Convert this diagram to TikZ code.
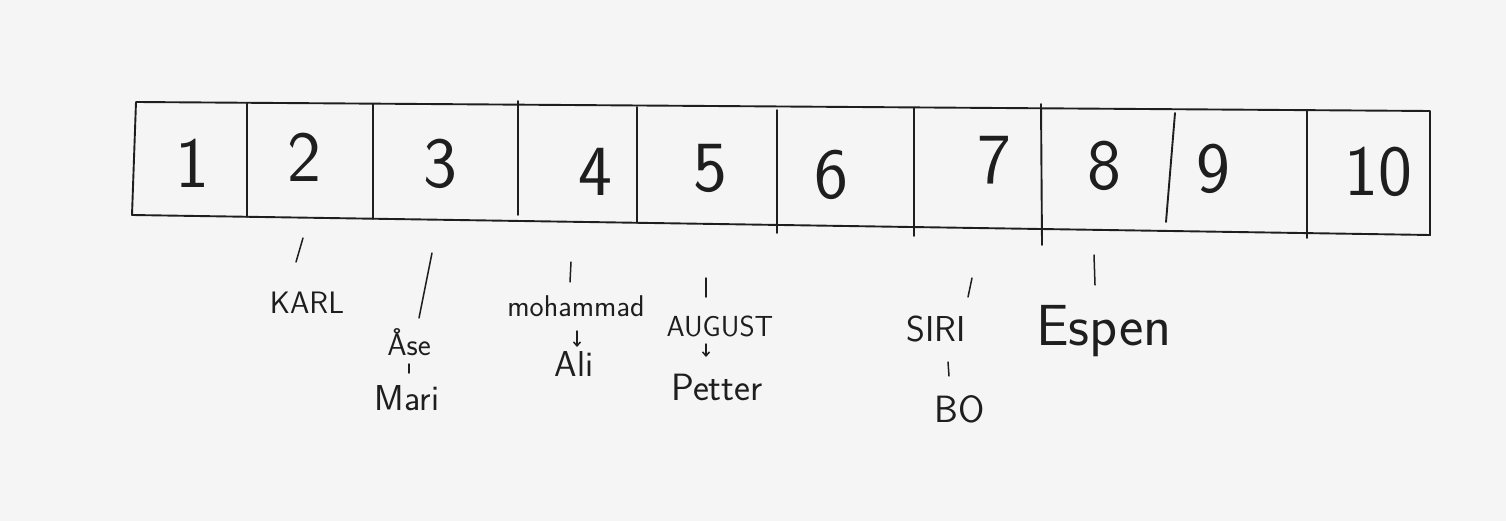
\documentclass[tikz,border=0pt]{standalone}
\usetikzlibrary{arrows.meta}
\definecolor{inkc}{HTML}{1E1E1E}
\definecolor{bgc}{HTML}{F5F5F5}
\begin{document}
\begin{tikzpicture}[x=1pt,y=-1pt,
  ink/.style={draw=inkc, line width=1.9pt, line cap=round, line join=round},
  thin/.style={draw=inkc, line width=1.5pt, line cap=round},
  digit/.style={anchor=base, inner sep=0pt, text=inkc, font=\sffamily\fontsize{72}{72}\selectfont},
  lbl/.style={anchor=base, inner sep=0pt, text=inkc, font=\sffamily\fontsize{#1}{#1}\selectfont},
  darrow/.style={thin, -{Straight Barb[length=4pt,width=7pt]}}]
\fill[bgc] (0,0) rectangle (1506,521);
\useasboundingbox (0,0) rectangle (1506,521);
% array outline
\coordinate (tl) at (136,102);
\coordinate (tr) at (1430,111);
\coordinate (br) at (1430,235);
\coordinate (bl) at (132,215);
\draw[ink] (tl) -- (tr) -- (br) -- (bl) -- cycle;
% dividers
\draw[ink] (247,103) -- (247,217);
\draw[ink] (373,104) -- (373,219);
\draw[ink] (518,101) -- (518,215);
\draw[ink] (637,107) -- (637,223);
\draw[ink] (777,110) -- (777,233);
\draw[ink] (914,108) -- (914,236);
\draw[ink] (1041,104) -- (1042,245);
\draw[ink] (1175,113) -- (1166,222);
\draw[ink] (1307,111) -- (1307,238);
% cell numbers
\node[digit] (c1) at (192,188) {1};
\node[digit] (c2) at (304,182) {2};
\node[digit] (c3) at (440,188) {3};
\node[digit] (c4) at (595,196) {4};
\node[digit] (c5) at (710,192) {5};
\node[digit] (c6) at (831,199) {6};
\node[digit] (c7) at (994,184) {7};
\node[digit] (c8) at (1104,190) {8};
\node[digit] (c9) at (1213,193) {9};
\node[digit] (c10) at (1378,196) {10};
% labels
\node[lbl=31] (karl) at (307,313) {KARL};
\node[lbl=31] (ase) at (409,355) {Åse};
\node[lbl=36] (mari) at (407,410) {Mari};
\node[lbl=30] (moh) at (576,316) {mohammad};
\node[lbl=36] (ali) at (574,376) {Ali};
\node[lbl=29] (aug) at (720,336) {AUGUST};
\node[lbl=38] (pet) at (717,400) {Petter};
\node[lbl=36] (siri) at (936,341) {SIRI};
\node[lbl=38] (bo) at (960,422) {BO};
\node[lbl=58] (esp) at (1104,345) {Espen};
% connector end points
\coordinate (k1) at (303,238); \coordinate (k2) at (296,262);
\coordinate (a1) at (432,253); \coordinate (a2) at (419,318);
\coordinate (am1) at (409,364); \coordinate (am2) at (409,373);
\coordinate (m1) at (571,262); \coordinate (m2) at (570,282);
\coordinate (ma1) at (577,331); \coordinate (ma2) at (577,347);
\coordinate (u1) at (706,278); \coordinate (u2) at (706,297);
\coordinate (up1) at (706,344); \coordinate (up2) at (706,357);
\coordinate (s1) at (972,278); \coordinate (s2) at (968,297);
\coordinate (sb1) at (948,362); \coordinate (sb2) at (949,376);
\coordinate (e1) at (1094,255); \coordinate (e2) at (1095,285);
% connectors
\draw[thin] (k1) -- (k2);
\draw[thin] (a1) -- (a2);
\draw[thin] (am1) -- (am2);
\draw[thin] (m1) -- (m2);
\draw[darrow] (ma1) -- (ma2);
\draw[thin] (u1) -- (u2);
\draw[darrow] (up1) -- (up2);
\draw[thin] (s1) -- (s2);
\draw[thin] (sb1) -- (sb2);
\draw[thin] (e1) -- (e2);
\end{tikzpicture}
\end{document}
